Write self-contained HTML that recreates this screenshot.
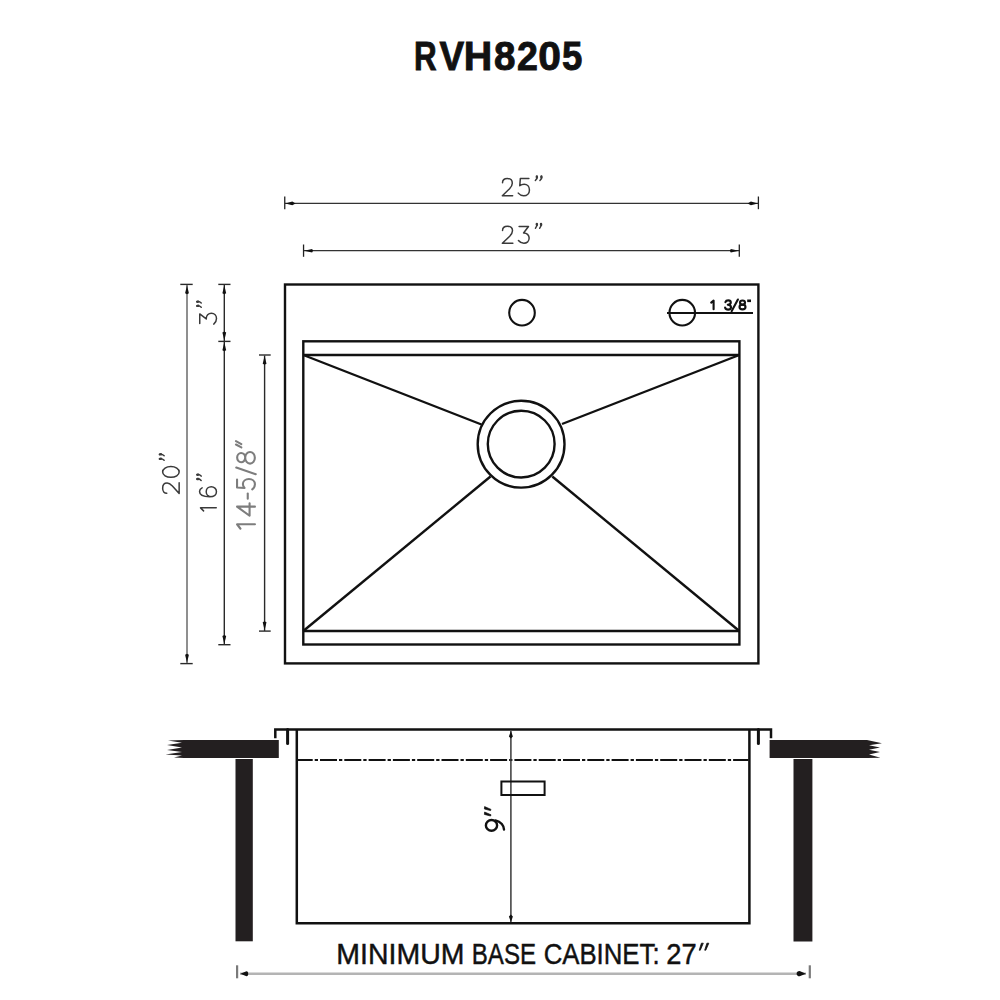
<!DOCTYPE html>
<html><head><meta charset="utf-8">
<style>
html,body{margin:0;padding:0;background:#fff;width:1000px;height:1000px;overflow:hidden}
svg{display:block}
text{font-family:"Liberation Sans",sans-serif}
</style></head><body>
<svg width="1000" height="1000" viewBox="0 0 1000 1000">
<rect width="1000" height="1000" fill="#fff"/>
<text transform="translate(414.00,70) scale(0.784,1)" font-size="40" font-weight="bold" fill="#111" stroke="#111" stroke-width="0.9">R</text><text transform="translate(439.45,70) scale(0.925,1)" font-size="40" font-weight="bold" fill="#111" stroke="#111" stroke-width="0.9">V</text><text transform="translate(463.87,70) scale(0.986,1)" font-size="40" font-weight="bold" fill="#111" stroke="#111" stroke-width="0.9">H</text><text transform="translate(493.94,70) scale(0.965,1)" font-size="40" font-weight="bold" fill="#111" stroke="#111" stroke-width="0.9">8</text><text transform="translate(516.97,70) scale(0.940,1)" font-size="40" font-weight="bold" fill="#111" stroke="#111" stroke-width="0.9">2</text><text transform="translate(538.33,70) scale(1.019,1)" font-size="40" font-weight="bold" fill="#111" stroke="#111" stroke-width="0.9">0</text><text transform="translate(562.00,70) scale(0.915,1)" font-size="40" font-weight="bold" fill="#111" stroke="#111" stroke-width="0.9">5</text>
<g stroke="#333" stroke-width="1.3" fill="none"><line x1="285" y1="203.4" x2="758.4" y2="203.4"/><line x1="303.6" y1="250.7" x2="739.3" y2="250.7"/></g>
<g stroke="#222" stroke-width="1.3" fill="none"><line x1="284.75" y1="196.5" x2="284.75" y2="209.2"/><line x1="758.4" y1="196.5" x2="758.4" y2="209.2"/><line x1="303.55" y1="244.5" x2="303.55" y2="256.8"/><line x1="739.3" y1="244.5" x2="739.3" y2="256.8"/></g>
<path d="M285.3,203.4 L292.3,201.6 L295.6,203.4 L292.3,205.20000000000002Z" fill="#111"/>
<path d="M757.9,203.4 L750.9,201.6 L747.6,203.4 L750.9,205.20000000000002Z" fill="#111"/>
<path d="M304.1,250.7 L312.1,248.89999999999998 L313.1,250.7 L312.1,252.5Z" fill="#111"/>
<path d="M738.8,250.7 L730.8,248.89999999999998 L729.8,250.7 L730.8,252.5Z" fill="#111"/>
<g transform="matrix(0.17167,0,0,0.17200,502.007,178.550)" fill="none" stroke="#3a3a3a" stroke-linecap="round" stroke-linejoin="round"><path d="M3,25 C3,10 15,0 31,0 C48,0 60,11 60,27 C60,39 54,48 44,59 L2,100 L62,100" stroke-width="1.50" vector-effect="non-scaling-stroke"/></g>
<g transform="matrix(0.18983,0,0,0.17551,517.870,178.199)" fill="none" stroke="#3a3a3a" stroke-linecap="round" stroke-linejoin="round"><path d="M58,2 L13,2 L10,43 C17,37 25,34 33,34 C49,34 61,48 61,67 C61,86 48,100 31,100 C19,100 9,94 2,85" stroke-width="1.50" vector-effect="non-scaling-stroke"/></g>
<g transform="matrix(0.20851,0,0,0.16400,534.516,176.350)" fill="none" stroke="#3a3a3a" stroke-linecap="round" stroke-linejoin="round"><path d="M11,0 C13,7 11,17 4,25" stroke-width="1.50" vector-effect="non-scaling-stroke"/><path d="M11,1 L11.5,7" stroke-width="2.40" vector-effect="non-scaling-stroke"/><path d="M33,0 C35,7 33,17 26,25" stroke-width="1.50" vector-effect="non-scaling-stroke"/><path d="M33,1 L33.5,7" stroke-width="2.40" vector-effect="non-scaling-stroke"/></g>
<g transform="matrix(0.17500,0,0,0.17000,502.000,226.250)" fill="none" stroke="#3a3a3a" stroke-linecap="round" stroke-linejoin="round"><path d="M3,25 C3,10 15,0 31,0 C48,0 60,11 60,27 C60,39 54,48 44,59 L2,100 L62,100" stroke-width="1.50" vector-effect="non-scaling-stroke"/></g>
<g transform="matrix(0.16462,0,0,0.17143,518.121,226.107)" fill="none" stroke="#3a3a3a" stroke-linecap="round" stroke-linejoin="round"><path d="M6,2 L63,2 L33,40 C53,39 67,53 67,70 C67,88 53,100 35,100 C22,100 10,94 2,84" stroke-width="1.50" vector-effect="non-scaling-stroke"/></g>
<g transform="matrix(0.19170,0,0,0.18000,534.683,223.650)" fill="none" stroke="#3a3a3a" stroke-linecap="round" stroke-linejoin="round"><path d="M11,0 C13,7 11,17 4,25" stroke-width="1.50" vector-effect="non-scaling-stroke"/><path d="M11,1 L11.5,7" stroke-width="2.40" vector-effect="non-scaling-stroke"/><path d="M33,0 C35,7 33,17 26,25" stroke-width="1.50" vector-effect="non-scaling-stroke"/><path d="M33,1 L33.5,7" stroke-width="2.40" vector-effect="non-scaling-stroke"/></g>
<g stroke="#111" stroke-width="2.4" fill="none">
  <rect x="285" y="284.5" width="473.4" height="378.9"/>
  <rect x="303.3" y="341.3" width="436.1" height="303.2"/>
  <line x1="303.3" y1="355" x2="739.3" y2="355"/>
  <line x1="303.3" y1="631" x2="739.3" y2="631"/>
  <line x1="303.3" y1="355" x2="481.5" y2="424.5"/>
  <line x1="739.3" y1="355" x2="562" y2="424"/>
  <line x1="303.3" y1="631" x2="490.5" y2="476.5"/>
  <line x1="739.3" y1="631" x2="552.3" y2="476.5"/>
  <circle cx="521.1" cy="444.2" r="43.4"/>
  <circle cx="521.2" cy="444.1" r="33.4"/>
  <circle cx="522" cy="312.7" r="12.8" stroke-width="2.1"/>
  <circle cx="682.25" cy="312.7" r="12.8" stroke-width="2.1"/>
  <line x1="667" y1="312.9" x2="753" y2="312.9" stroke-width="2"/>
</g>
<g fill="none" stroke="#111" stroke-width="2.1" stroke-linecap="round" stroke-linejoin="round">
<path d="M711.2,302.6 L713.6,300.6 L713.6,309.3"/>
<path d="M725.4,302.2 C725.9,300.8 727,300.4 728.2,300.4 C729.8,300.4 730.8,301.4 730.8,302.6 C730.8,303.9 729.6,304.7 727.8,304.8 C729.8,304.9 731,306 731,307.3 C731,308.8 729.7,309.6 728.1,309.6 C726.7,309.6 725.5,308.9 725.1,307.6"/>
<path d="M731.6,311.2 L737.9,299.5"/>
<ellipse cx="742.5" cy="302.6" rx="2.5" ry="2.1"/>
<ellipse cx="742.5" cy="307" rx="3" ry="2.4"/>
</g>
<rect x="747.2" y="299.5" width="3.8" height="2.6" fill="#111"/>
<line x1="187" y1="285" x2="187" y2="663" stroke="#8a8a8a" stroke-width="1.9"/>
<g stroke="#2a2a2a" stroke-width="1.4" fill="none"><line x1="180.3" y1="284.4" x2="192.7" y2="284.4"/><line x1="180.3" y1="663.6" x2="192.7" y2="663.6"/></g>
<path d="M187,285.2 L185.1,293.2 L187,294.2 L188.9,293.2Z" fill="#111"/>
<path d="M187,662.8 L185.1,654.8 L187,653.8 L188.9,654.8Z" fill="#111"/>
<g stroke="#2a2a2a" stroke-width="1.4" fill="none"><line x1="224.3" y1="285" x2="224.3" y2="644.5"/><line x1="218.3" y1="284.4" x2="230.5" y2="284.4"/><line x1="218.3" y1="341.4" x2="230.5" y2="341.4"/><line x1="218.3" y1="644.7" x2="230.5" y2="644.7"/><line x1="264.6" y1="355.5" x2="264.6" y2="631"/><line x1="259" y1="355" x2="270.7" y2="355"/><line x1="259" y1="631.1" x2="270.7" y2="631.1"/></g>
<path d="M224.3,285.3 L222.4,293.3 L224.3,294.3 L226.20000000000002,293.3Z" fill="#111"/>
<path d="M224.3,340.6 L222.4,332.6 L224.3,331.6 L226.20000000000002,332.6Z" fill="#111"/>
<path d="M224.3,342.2 L222.4,350.2 L224.3,351.2 L226.20000000000002,350.2Z" fill="#111"/>
<path d="M224.3,643.9 L222.4,635.9 L224.3,634.9 L226.20000000000002,635.9Z" fill="#111"/>
<path d="M264.6,355.8 L262.70000000000005,363.8 L264.6,364.8 L266.5,363.8Z" fill="#111"/>
<path d="M264.6,630.3 L262.70000000000005,622.3 L264.6,621.3 L266.5,622.3Z" fill="#111"/>
<g transform="matrix(0,-0.18000,0.16500,0,162.650,493.910)" fill="none" stroke="#3a3a3a" stroke-linecap="round" stroke-linejoin="round"><path d="M3,25 C3,10 15,0 31,0 C48,0 60,11 60,27 C60,39 54,48 44,59 L2,100 L62,100" stroke-width="1.50" vector-effect="non-scaling-stroke"/></g>
<g transform="matrix(0,-0.16119,0.16500,0,162.650,477.511)" fill="none" stroke="#3a3a3a" stroke-linecap="round" stroke-linejoin="round"><path d="M34.5,0 C53,0 68,22 68,50 C68,78 53,100 34.5,100 C16,100 1,78 1,50 C1,22 16,0 34.5,0 Z" stroke-width="1.50" vector-effect="non-scaling-stroke"/></g>
<g transform="matrix(0,-0.20179,0.18000,0,159.650,461.057)" fill="none" stroke="#3a3a3a" stroke-linecap="round" stroke-linejoin="round"><path d="M11,0 C13,7 11,17 4,25" stroke-width="1.50" vector-effect="non-scaling-stroke"/><path d="M11,1 L11.5,7" stroke-width="2.40" vector-effect="non-scaling-stroke"/><path d="M33,0 C35,7 33,17 26,25" stroke-width="1.50" vector-effect="non-scaling-stroke"/><path d="M33,1 L33.5,7" stroke-width="2.40" vector-effect="non-scaling-stroke"/></g>
<g transform="matrix(0,-0.16769,0.17092,0,199.408,324.485)" fill="none" stroke="#3a3a3a" stroke-linecap="round" stroke-linejoin="round"><path d="M6,2 L63,2 L33,40 C53,39 67,53 67,70 C67,88 53,100 35,100 C22,100 10,94 2,84" stroke-width="1.50" vector-effect="non-scaling-stroke"/></g>
<g transform="matrix(0,-0.19170,0.16800,0,197.050,308.017)" fill="none" stroke="#3a3a3a" stroke-linecap="round" stroke-linejoin="round"><path d="M11,0 C13,7 11,17 4,25" stroke-width="1.50" vector-effect="non-scaling-stroke"/><path d="M11,1 L11.5,7" stroke-width="2.40" vector-effect="non-scaling-stroke"/><path d="M33,0 C35,7 33,17 26,25" stroke-width="1.50" vector-effect="non-scaling-stroke"/><path d="M33,1 L33.5,7" stroke-width="2.40" vector-effect="non-scaling-stroke"/></g>
<g transform="matrix(0,-0.13636,0.15859,0,200.391,510.986)" fill="none" stroke="#3a3a3a" stroke-linecap="round" stroke-linejoin="round"><path d="M1,20 L23,1 L23,100" stroke-width="1.50" vector-effect="non-scaling-stroke"/></g>
<g transform="matrix(0,-0.16393,0.17071,0,199.379,497.242)" fill="none" stroke="#3a3a3a" stroke-linecap="round" stroke-linejoin="round"><path d="M57,16 C52,6 44,1 35,1 C16,1 3,24 3,60 C3,86 16,100 34,100 C51,100 64,86 64,70 C64,53 51,40 34,40 C18,40 5,52 3,66" stroke-width="1.50" vector-effect="non-scaling-stroke"/></g>
<g transform="matrix(0,-0.19842,0.16000,0,197.150,481.244)" fill="none" stroke="#3a3a3a" stroke-linecap="round" stroke-linejoin="round"><path d="M11,0 C13,7 11,17 4,25" stroke-width="1.50" vector-effect="non-scaling-stroke"/><path d="M11,1 L11.5,7" stroke-width="2.40" vector-effect="non-scaling-stroke"/><path d="M33,0 C35,7 33,17 26,25" stroke-width="1.50" vector-effect="non-scaling-stroke"/><path d="M33,1 L33.5,7" stroke-width="2.40" vector-effect="non-scaling-stroke"/></g>
<g transform="matrix(0,-0.20455,0.18081,0,236.869,528.955)" fill="none" stroke="#7d7d7d" stroke-linecap="round" stroke-linejoin="round"><path d="M1,20 L23,1 L23,100" stroke-width="2.10" vector-effect="non-scaling-stroke"/></g>
<g transform="matrix(0,-0.17123,0.17900,0,237.050,515.921)" fill="none" stroke="#7d7d7d" stroke-linecap="round" stroke-linejoin="round"><path d="M54,100 L54,0 L1,70 L74,70" stroke-width="2.10" vector-effect="non-scaling-stroke"/></g>
<g transform="matrix(0,-0.16613,1.00000,0,188.750,498.700)" fill="none" stroke="#7d7d7d" stroke-linecap="round" stroke-linejoin="round"><path d="M0,59 L31,59" stroke-width="2.10" vector-effect="non-scaling-stroke"/></g>
<g transform="matrix(0,-0.17627,0.18265,0,236.685,489.803)" fill="none" stroke="#7d7d7d" stroke-linecap="round" stroke-linejoin="round"><path d="M58,2 L13,2 L10,43 C17,37 25,34 33,34 C49,34 61,48 61,67 C61,86 48,100 31,100 C19,100 9,94 2,85" stroke-width="2.10" vector-effect="non-scaling-stroke"/></g>
<g transform="matrix(0,-0.16500,0.19500,0,236.250,474.150)" fill="none" stroke="#7d7d7d" stroke-linecap="round" stroke-linejoin="round"><path d="M0,100 L40,0" stroke-width="2.10" vector-effect="non-scaling-stroke"/></g>
<g transform="matrix(0,-0.17727,0.17879,0,236.971,464.005)" fill="none" stroke="#7d7d7d" stroke-linecap="round" stroke-linejoin="round"><path d="M36,1 C51,1 62,11 62,23 C62,36 51,46 36,46 C21,46 10,36 10,23 C10,11 21,1 36,1 Z M35,46 C53,46 68,58 68,73 C68,88 53,100 35,100 C17,100 2,88 2,73 C2,58 17,46 35,46 Z" stroke-width="2.10" vector-effect="non-scaling-stroke"/></g>
<g transform="matrix(0,-0.21000,0.14211,0,235.950,447.450)" fill="none" stroke="#7d7d7d" stroke-linecap="round" stroke-linejoin="round"><path d="M30,0 L16,38" stroke-width="2.10" vector-effect="non-scaling-stroke"/><path d="M14,0 L0,38" stroke-width="2.10" vector-effect="non-scaling-stroke"/></g>
<g fill="#231f20">
  <path d="M278.8,740 L184,740 L168,740.6 L182,742.8 L167,745 L182,747.4 L167,750 L182,752 L165.5,754.5 L182,755.6 L174,757.6 L184,757.9 L278.8,757.9 Z"/>
  <rect x="235.5" y="759" width="17.3" height="182.3"/>
  <path d="M769.6,740 L867,740 L882,743.3 L869,745.3 L880,747.5 L869,749.8 L880,752 L869,754.5 L880.5,757.8 L867,757.9 L769.6,757.9 Z"/>
  <rect x="793.5" y="759" width="18.9" height="182.5"/>
</g>
<g stroke="#111" stroke-width="2.5" fill="none" stroke-linecap="butt">
  <path d="M275.3 738.2 L275.3 729.4 L771 729.4 L771 738.2"/>
  <line x1="287.6" y1="729.4" x2="287.6" y2="743.6" stroke-width="3" stroke-linecap="round"/>
  <line x1="758.4" y1="729.4" x2="758.4" y2="743.6" stroke-width="3" stroke-linecap="round"/>
  <path d="M296.8 729.4 L296.8 923.3 L749.4 923.3 L749.4 729.4"/>
</g>
<line x1="298" y1="760" x2="748.5" y2="760" stroke="#111" stroke-width="2" stroke-dasharray="17 2 3.3 2" stroke-dashoffset="2.3"/>
<line x1="510.9" y1="731" x2="510.9" y2="922" stroke="#3a3a3a" stroke-width="1.5"/>
<path d="M510.9,731 L508.9,736.5 L510.9,738.5 L512.9,736.5Z" fill="#111"/>
<path d="M510.9,922 L508.9,916.5 L510.9,914.5 L512.9,916.5Z" fill="#111"/>
<rect x="501.4" y="781.5" width="43.2" height="13.5" stroke="#111" stroke-width="2" fill="none"/>
<g fill="none" stroke="#111" stroke-width="2.4" stroke-linecap="round">
<ellipse cx="491.5" cy="825.4" rx="5.6" ry="5.4"/>
<path d="M495.5 820.5 C501 821.5 504 826 504 829.6"/>
</g><path d="M484.6,806.6 L491,809.4 L490.6,810.6 L484.4,809 Z M484.6,812 L491,814.8 L490.6,816 L484.4,814.4 Z" fill="#111" stroke="#111" stroke-width="0.7" stroke-linejoin="round"/><g>
</g>
<line x1="240" y1="973.7" x2="806" y2="973.7" stroke="#b4b4b4" stroke-width="2.4"/>
<g stroke="#7a7a7a" stroke-width="2.2" fill="none"><line x1="237.1" y1="965.3" x2="237.1" y2="978.3"/><line x1="809.8" y1="965.3" x2="809.8" y2="978.3"/></g>
<path d="M240.3,973.7 L246.5,971.2 C247.8,971.2 248.2,972.4 248.2,973.7 C248.2,975 247.8,976.2 246.5,976.2 Z" fill="#111"/>
<path d="M806,973.7 L799.6,971.1 C797.6,971.1 796.6,972.3 796.6,973.7 C796.6,975.1 797.6,976.3 799.6,976.3 Z" fill="#111"/>
<text transform="translate(336.30,963.8) scale(0.950,1)" font-size="30" fill="#111" stroke="#111" stroke-width="0.45">MINIMUM</text><text transform="translate(471.79,963.8) scale(0.803,1)" font-size="30" fill="#111" stroke="#111" stroke-width="0.45">BASE</text><text transform="translate(543.64,963.8) scale(0.859,1)" font-size="30" fill="#111" stroke="#111" stroke-width="0.45">CABINET:</text><text transform="translate(666.34,963.8) scale(0.911,1)" font-size="30" fill="#111" stroke="#111" stroke-width="0.45">27</text><path d="M701.4,943.2 L703.3,943.2 L700.3,950.2 L699.2,950.2 Z M706.9,943.2 L708.8,943.2 L705.8,950.2 L704.7,950.2 Z" fill="#111" stroke="#111" stroke-width="0.8" stroke-linejoin="round"/>
</svg>
</body></html>
